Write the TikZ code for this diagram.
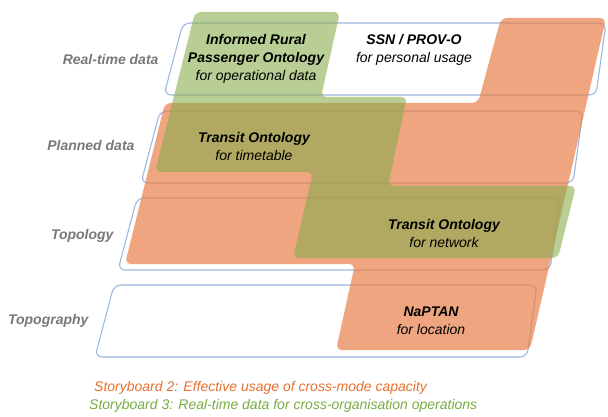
\documentclass[tikz,border=0pt]{standalone}
\usepackage{fontspec}
\setmainfont{Liberation Sans}
\usepackage{tikz}
\usepackage{xcolor}
\definecolor{layerblue}{RGB}{157,185,222}
\definecolor{sbgreen}{RGB}{137,173,77}
\definecolor{sborange}{RGB}{232,128,74}
\definecolor{labelgray}{RGB}{120,120,120}
\definecolor{sbgreentext}{RGB}{118,172,66}
\definecolor{sborangetext}{RGB}{230,112,48}

\begin{document}
\begin{tikzpicture}[x=1pt,y=-1pt,line cap=round,
  font=\fontsize{14}{18}\selectfont\itshape,
  layer/.style={draw=layerblue,line width=1.1pt,rounded corners=7pt},
  rowlabel/.style={anchor=east,text=labelgray,font=\fontsize{14}{18}\selectfont\bfseries\itshape},
  onto/.style={align=center,inner sep=0pt}]
\useasboundingbox (0,0) rectangle (608,417);
% data layers
\foreach \t/\l in {23/183,111/160,198/137,285/114}
  \draw[layer] (\l,\t) -- (\l+423,\t) -- (\l+413,\t+72) -- (\l-19,\t+72) -- cycle;
% storyboard 2
\fill[sborange,opacity=0.7,rounded corners=6pt] (501,18) -- (606,18) -- (530,350) -- (336,350)
  -- (355,264) -- (125,264) -- (165,103) -- (478,103) -- cycle;
% storyboard 3
\fill[sbgreen,opacity=0.6,rounded corners=6pt] (195,12) -- (340,12) -- (321,97) -- (407,97)
  -- (388,186) -- (576,186) -- (558,258) -- (293,258) -- (313,172) -- (155,172) -- cycle;
% layer names
\node[rowlabel] (realtime) at (162,60) {Real-time data};
\node[rowlabel] (planned) at (138,146) {Planned data};
\node[rowlabel] (topology) at (117,236) {Topology};
\node[rowlabel] (topography) at (92,321) {Topography};
% ontologies
\node[onto] (irpo) at (256,59) {\textbf{Informed Rural}\\\textbf{Passenger Ontology}\\for operational data};
\node[onto] (ssn) at (414,50) {\textbf{SSN / PROV-O}\\for personal usage};
\node[onto] (timetable) at (254,146) {\textbf{Transit Ontology}\\for timetable};
\node[onto] (network) at (444,233) {\textbf{Transit Ontology}\\for network};
\node[onto] (naptan) at (431,321) {\textbf{NaPTAN}\\for location};
% storyboards
\node[anchor=west,inner sep=0pt,text=sborangetext] (sb2) at (94,388) {Storyboard 2: Effective usage of cross-mode capacity};
\node[anchor=west,inner sep=0pt,text=sbgreentext] (sb3) at (89,406) {Storyboard 3: Real-time data for cross-organisation operations};
\end{tikzpicture}
\end{document}
